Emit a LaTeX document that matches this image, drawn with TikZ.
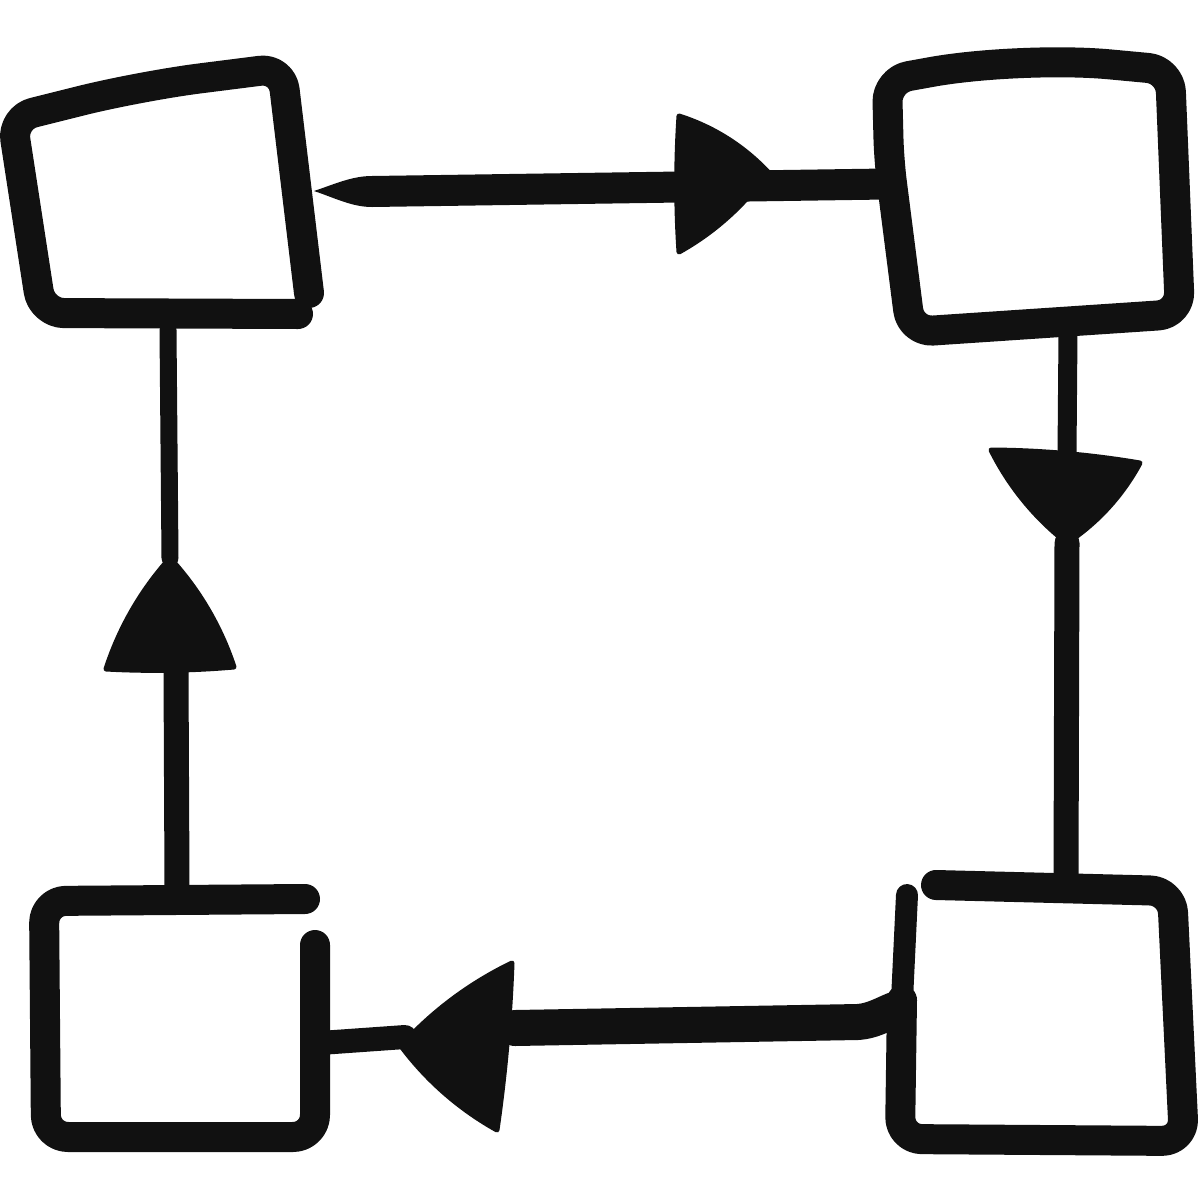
\documentclass[tikz,border=0pt]{standalone}
\usetikzlibrary{calc}
\definecolor{ink}{HTML}{111111}
\begin{document}
\begin{tikzpicture}[x=1pt,y=-1pt,line cap=round,line join=round,
  boxline/.style={draw=ink,line width=30pt,rounded corners=22pt},
  conn/.style={draw=ink,line width=#1},
  conn/.default=30pt,
  head/.style={fill=ink,draw=ink,line width=5pt,line join=round}]
\useasboundingbox (0,0) rectangle (1200,1200);

% ---- box anchors ----
\coordinate (tlR) at (314,191);  % top-left box, right side
\coordinate (tlB) at (168,330);  % top-left box, bottom
\coordinate (trL) at (886,184);  % top-right box, left side
\coordinate (trB) at (1068,332); % top-right box, bottom
\coordinate (brT) at (1066,882); % bottom-right box, top
\coordinate (brL) at (894,1010); % bottom-right box, left side
\coordinate (blR) at (320,1043); % bottom-left box, right side
\coordinate (blT) at (177,886);  % bottom-left box, top

% ---- boxes ----
\draw[boxline] (298,314) -- (42,313) -- (12,118) [rounded corners=60pt] -- (140,86) [rounded corners=22pt] -- (282,68) -- (309,293);
\draw[boxline] (889,160) -- (887,80) [rounded corners=90pt] -- (1020,56) [rounded corners=22pt] -- (1170,70) -- (1180,314) -- (911,332) -- cycle;
\draw[boxline] (936,885) -- (1172,891) -- (1184,1141) -- (900,1139) -- (902,1000);
\draw[draw=ink,line width=22pt] (902,1000) -- (907,895);
\draw[boxline] (305,899) -- (44,901) -- (46,1137) -- (315,1137) -- (315,945);

% ---- top connector: top-left -> top-right ----
\coordinate (tA) at (679,116);
\coordinate (tB) at (768,172);
\coordinate (tC) at (679,252);
\fill[ink] (tlR) .. controls (335,184) and (352,176) .. (372,176) -- (372,207)
  .. controls (352,207) and (335,198) .. (tlR) -- cycle;
\draw[conn=31pt] (372,191.5) -- (trL);
\path[head] (tA)
  .. controls ($(tA)!0.33!(tB)!9pt!90:(tB)$) and ($(tA)!0.67!(tB)!9pt!90:(tB)$) .. (tB)
  .. controls ($(tB)!0.33!(tC)!9pt!90:(tC)$) and ($(tB)!0.67!(tC)!9pt!90:(tC)$) .. (tC)
  .. controls ($(tC)!0.33!(tA)!3pt!90:(tA)$) and ($(tC)!0.67!(tA)!3pt!90:(tA)$) .. (tA) -- cycle;

% ---- right connector: top-right -> bottom-right ----
\coordinate (rA) at (991,450);
\coordinate (rB) at (1140,463);
\coordinate (rC) at (1067,543);
\draw[conn=19pt] (trB) -- (1067,455);
\draw[conn=25pt] (rC) -- (brT);
\path[head] (rA)
  .. controls ($(rA)!0.33!(rB)!4pt!90:(rB)$) and ($(rA)!0.67!(rB)!4pt!90:(rB)$) .. (rB)
  .. controls ($(rB)!0.33!(rC)!9pt!90:(rC)$) and ($(rB)!0.67!(rC)!9pt!90:(rC)$) .. (rC)
  .. controls ($(rC)!0.33!(rA)!9pt!90:(rA)$) and ($(rC)!0.67!(rA)!9pt!90:(rA)$) .. (rA) -- cycle;

% ---- bottom connector: bottom-right -> bottom-left ----
\coordinate (bV) at (512,963);
\coordinate (bW) at (497,1130);
\coordinate (bX) at (401,1046);
\draw[conn=36pt] (515,1028) -- (858,1022) .. controls (872,1021) and (882,1015) .. (brL);
\draw[conn=24pt] (blR) -- (405,1037);
\path[head] (bV)
  .. controls ($(bV)!0.33!(bW)!3pt!90:(bW)$) and ($(bV)!0.67!(bW)!3pt!90:(bW)$) .. (bW)
  .. controls ($(bW)!0.33!(bX)!9pt!90:(bX)$) and ($(bW)!0.67!(bX)!9pt!90:(bX)$) .. (bX)
  .. controls ($(bX)!0.33!(bV)!9pt!90:(bV)$) and ($(bX)!0.67!(bV)!9pt!90:(bV)$) .. (bV) -- cycle;

% ---- left connector: bottom-left -> top-left ----
\coordinate (lT) at (170,558);
\coordinate (lR) at (234,667);
\coordinate (lL) at (106,669);
\draw[conn=17pt] (tlB) -- (lT);
\draw[conn=25pt] (176,668) -- (blT);
\path[head] (lT)
  .. controls ($(lT)!0.33!(lR)!9pt!90:(lR)$) and ($(lT)!0.67!(lR)!9pt!90:(lR)$) .. (lR)
  .. controls ($(lR)!0.33!(lL)!3pt!90:(lL)$) and ($(lR)!0.67!(lL)!3pt!90:(lL)$) .. (lL)
  .. controls ($(lL)!0.33!(lT)!9pt!90:(lT)$) and ($(lL)!0.67!(lT)!9pt!90:(lT)$) .. (lT) -- cycle;
\end{tikzpicture}
\end{document}
